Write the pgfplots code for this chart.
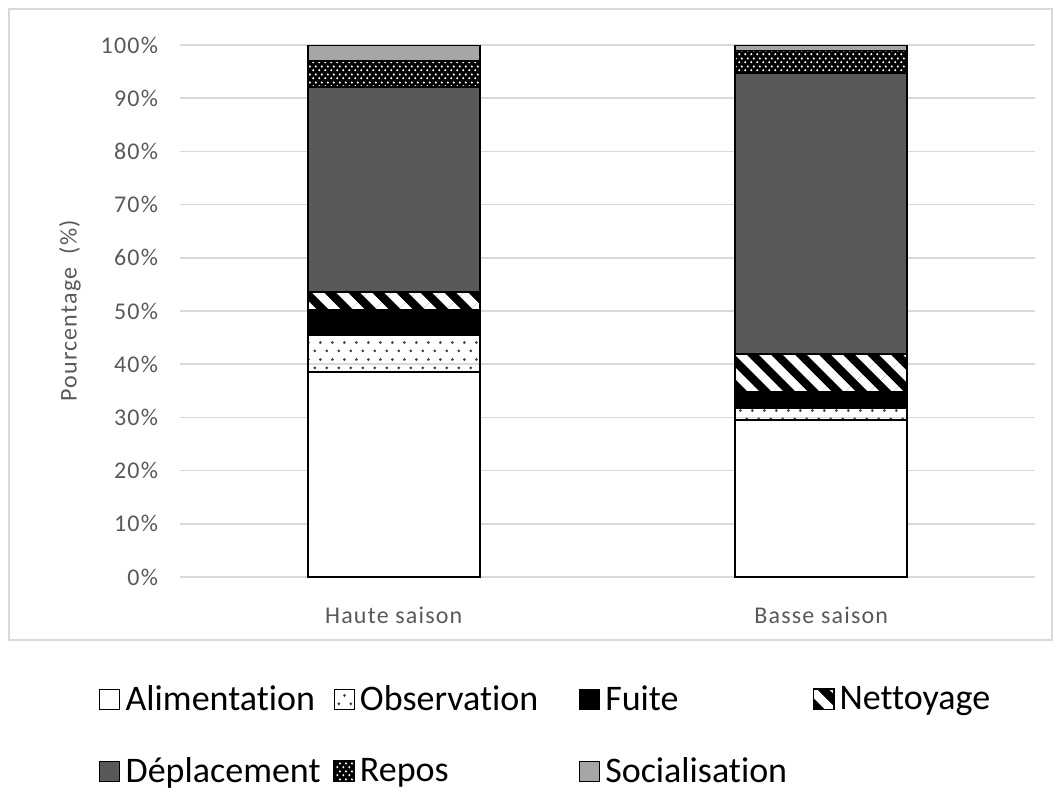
\documentclass[border=0pt]{standalone}
\usepackage{pgfplots}
\pgfplotsset{compat=1.18}
\usepackage{fontspec}
\setmainfont{Carlito}[Ligatures=NoCommon]
\newfontfamily\axfont[LetterSpace=5,Ligatures=NoCommon]{Carlito}
\usetikzlibrary{patterns,patterns.meta}

% dark dots on white (Observation)
\pgfdeclarepatternformonly{obsdots}{\pgfqpoint{0pt}{0pt}}{\pgfqpoint{6pt}{8.4pt}}{\pgfqpoint{6pt}{8.4pt}}{%
  \pgfpathcircle{\pgfqpoint{1.5pt}{2.1pt}}{0.8pt}%
  \pgfpathcircle{\pgfqpoint{4.5pt}{6.3pt}}{0.8pt}%
  \pgfusepath{fill}}
% white dots on black (Repos)
\pgfdeclarepatternformonly{reposdots}{\pgfqpoint{0pt}{0pt}}{\pgfqpoint{3pt}{4pt}}{\pgfqpoint{3pt}{4pt}}{%
  \pgfpathcircle{\pgfqpoint{0.75pt}{1pt}}{0.65pt}%
  \pgfpathcircle{\pgfqpoint{2.25pt}{3pt}}{0.65pt}%
  \pgfusepath{fill}}

\newcommand\entry[2]{\makebox[#1][l]{\vphantom{Dépy}#2}}

\begin{document}
\begin{tikzpicture}[x=1pt,y=1pt]
\path (0,0) rectangle (532,-396);
\draw[black!15, line width=1pt] (4.5,-4.5) rectangle (526,-320);
\begin{axis}[
    at={(90pt,-288.5pt)}, anchor=south west,
    width=427.5pt, height=266pt, scale only axis,
    ybar stacked, bar width=86pt,
    xmin=-0.5, xmax=1.5, ymin=0, ymax=100,
    xtick={0,1}, xticklabels={Haute saison, Basse saison},
    ytick={0,10,...,100},
    /pgf/number format/assume math mode=true,
    yticklabel={\pgfmathprintnumber{\tick}\%},
    ymajorgrids, grid style={black!15, line width=0.8pt},
    axis line style={draw=none}, major tick length=0pt,
    tick label style={font=\axfont\fontsize{12}{14}\selectfont, text=black!65},
    xticklabel style={yshift=-11.5pt},
    yticklabel style={xshift=-7.5pt},
    ylabel={Pourcentage\ \ (\%)},
    every axis y label/.style={at={(axis description cs:-0.1287,0.5)}, rotate=90, anchor=center,
        font=\axfont\fontsize{12}{14}\selectfont, text=black!65},
    legend columns=4,
    legend cell align=left,
    legend style={draw=none, fill=none, at={(axis description cs:-0.1018,-0.195)}, anchor=north west,
        font=\fontsize{18}{20}\selectfont, nodes={inner sep=0pt}, row sep=22pt, column sep=0pt},
    legend image code/.code={\draw[#1, line width=0.5pt] (0pt,-5pt) rectangle (10pt,5pt); \path (12.5pt,0pt);},
    every axis plot/.append style={draw=black, line width=0.8pt},
]
\addplot[fill=white] coordinates {(0,38.5) (1,29.5)};
\addlegendentry{\entry{104pt}{Alimentation}}
\addplot[fill=white, pattern=obsdots, pattern color=black!75] coordinates {(0,7.0) (1,2.3)};
\addlegendentry{\entry{109.5pt}{Observation}}
\addplot[fill=black] coordinates {(0,4.7) (1,3.0)};
\addlegendentry{\entry{104pt}{Fuite}}
\addplot[preaction={fill=black}, pattern={Lines[angle=-45,distance=8.5pt,line width=4.2pt]}, pattern color=white] coordinates {(0,3.4) (1,7.1)};
\addlegendentry{\entry{60pt}{Nettoyage}}
\addplot[fill=black!65] coordinates {(0,38.5) (1,52.8)};
\addlegendentry{\entry{104pt}{Déplacement}}
\addplot[preaction={fill=black}, pattern=reposdots, pattern color=white] coordinates {(0,4.9) (1,4.3)};
\addlegendentry{\entry{109.5pt}{Repos}}
\addplot[fill=black!35] coordinates {(0,3.0) (1,1.0)};
\addlegendentry{\entry{104pt}{Socialisation}}
\end{axis}
\end{tikzpicture}
\end{document}
